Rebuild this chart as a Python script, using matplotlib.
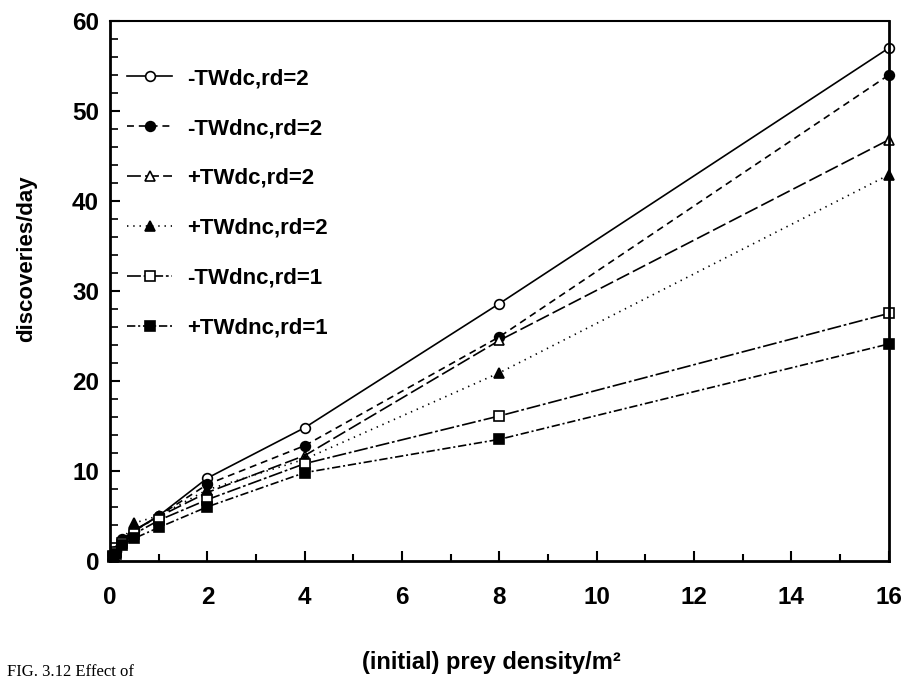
import matplotlib
matplotlib.use("Agg")
import matplotlib.pyplot as plt
from matplotlib.ticker import MultipleLocator

plt.rcParams['font.family'] = ['Liberation Sans', 'DejaVu Sans']
plt.rcParams['lines.scale_dashes'] = False

density = [0.0625, 0.125, 0.25, 0.5, 1, 2, 4, 8, 16]
labels = ["-TWdc,rd=2", "-TWdnc,rd=2", "+TWdc,rd=2", "+TWdnc,rd=2", "-TWdnc,rd=1", "+TWdnc,rd=1"]
s_mTWdc_rd2 = [0.6, 1.1, 2.4, 3.4, 5.0, 9.2, 14.8, 28.6, 57.0]
s_mTWdnc_rd2 = [0.6, 1.1, 2.3, 3.3, 5.0, 8.5, 12.8, 24.9, 54.0]
s_pTWdc_rd2 = [0.6, 1.0, 2.2, 3.4, 4.9, 7.6, 11.7, 24.5, 46.8]
s_pTWdnc_rd2 = [0.6, 1.1, 2.3, 4.2, 5.0, 7.9, 11.3, 20.9, 42.9]
s_mTWdnc_rd1 = [0.5, 1.0, 2.0, 3.0, 4.5, 6.8, 10.8, 16.1, 27.5]
s_pTWdnc_rd1 = [0.4, 0.8, 1.8, 2.5, 3.7, 6.0, 9.8, 13.5, 24.1]
series = [s_mTWdc_rd2, s_mTWdnc_rd2, s_pTWdc_rd2, s_pTWdnc_rd2, s_mTWdnc_rd1, s_pTWdnc_rd1]

styles = [
    dict(marker='o', mfc='white', ls='-'),
    dict(marker='o', mfc='black', dashes=(5, 3.5)),
    dict(marker='^', mfc='white', dashes=(10, 3)),
    dict(marker='^', mfc='black', dashes=(1, 3.5)),
    dict(marker='s', mfc='white', dashes=(10, 2, 2, 2)),
    dict(marker='s', mfc='black', dashes=(6, 2, 1.5, 2)),
]

fig = plt.figure(figsize=(9.18, 6.83), dpi=100)
ax = fig.add_axes([0.120, 0.179, 0.848, 0.790])

for ys, lab, st in zip(series, labels, styles):
    ax.plot(density, ys, color='black', lw=1.2, mec='black', mew=1.2, ms=7,
            label=lab, clip_on=False, **st)

ax.set_xlim(0, 16)
ax.set_ylim(0, 60)
ax.xaxis.set_major_locator(MultipleLocator(2))
ax.xaxis.set_minor_locator(MultipleLocator(1))
ax.yaxis.set_major_locator(MultipleLocator(10))
ax.yaxis.set_minor_locator(MultipleLocator(2))
ax.tick_params(axis='both', which='both', direction='in', color='black')
ax.tick_params(axis='x', which='major', length=7, width=1.5, pad=18, labelsize=17.5)
ax.tick_params(axis='x', which='minor', length=5, width=1.5)
ax.tick_params(axis='y', which='major', length=7, width=1.5, pad=8, labelsize=17.5)
ax.tick_params(axis='y', which='minor', length=6, width=1.2)
for t in ax.get_xticklabels() + ax.get_yticklabels():
    t.set_fontweight('bold')

for side, w in [('left', 2.0), ('bottom', 2.0), ('right', 2.0), ('top', 1.5)]:
    ax.spines[side].set_linewidth(w)

ax.set_ylabel('discoveries/day', fontsize=16, fontweight='bold')
ax.yaxis.set_label_coords(-0.094, 0.56)
fig.text(491 / 918, 1 - 663 / 683, '(initial) prey density/m²', fontsize=17,
         fontweight='bold', ha='center', va='center')

leg = ax.legend(loc='upper left', bbox_to_anchor=(0.022, 0.913), frameon=False,
                fontsize=16, handlelength=2.0, handletextpad=0.68, labelspacing=1.3,
                borderaxespad=0, borderpad=0, markerscale=1.0)
for t in leg.get_texts():
    t.set_fontweight('bold')

fig.text(0.008, 0.004, 'FIG. 3.12 Effect of', fontsize=12, family=['Liberation Serif', 'DejaVu Serif'],
         ha='left', va='bottom')

fig.savefig('out.png', dpi=100)
